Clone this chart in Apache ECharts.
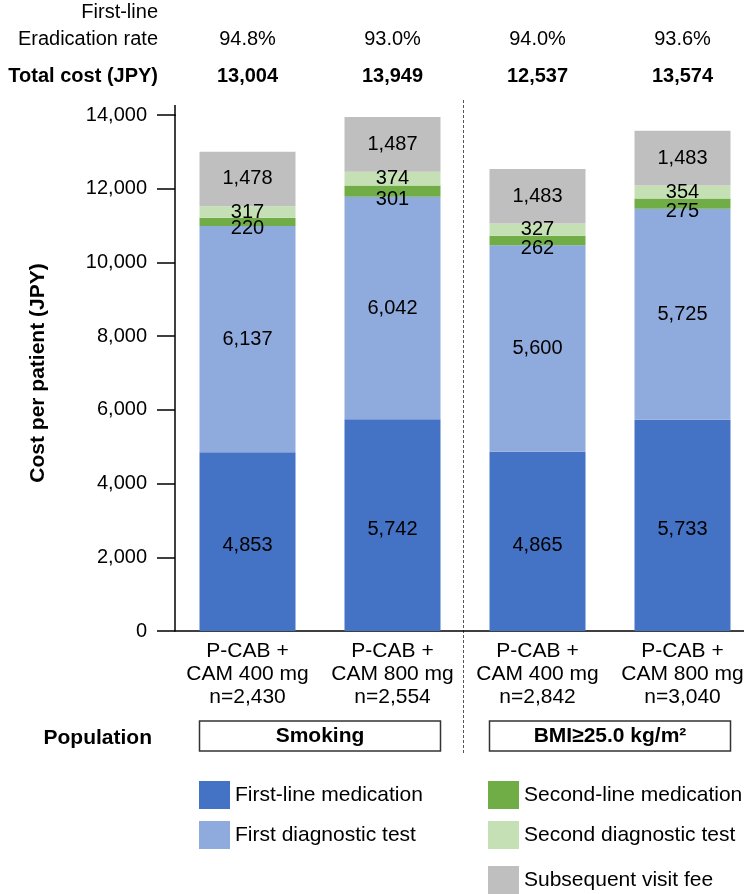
<!DOCTYPE html>
<html>
<head>
<meta charset="utf-8">
<script src="https://cdn.jsdelivr.net/npm/echarts@6/dist/echarts.min.js"></script>
<style>
  html, body { margin: 0; padding: 0; background: #fff; }
  #main { width: 744px; height: 894px; }
</style>
</head>
<body>
<div id="main"></div>
<script>
// data
const categories = ['P-CAB +\nCAM 400 mg\nn=2,430', 'P-CAB +\nCAM 800 mg\nn=2,554', 'P-CAB +\nCAM 400 mg\nn=2,842', 'P-CAB +\nCAM 800 mg\nn=3,040'];
const eradicationRates = ['94.8%', '93.0%', '94.0%', '93.6%'];
const totalCosts = ['13,004', '13,949', '12,537', '13,574'];
const populations = ['Smoking', 'BMI≥25.0 kg/m²'];

const firstLineMed = [4853, 5742, 4865, 5733];
const firstDiagTest = [6137, 6042, 5600, 5725];
const secondLineMed = [220, 301, 262, 275];
const secondDiagTest = [317, 374, 327, 354];
const visitFee = [1478, 1487, 1483, 1483];

const FONT = '"Liberation Sans", Arial, sans-serif';
const fmt = v => Number(v).toLocaleString('en-US');

const myChart = echarts.init(document.getElementById('main'));

function barSeries(name, data, color, label) {
  return {
    name: name,
    type: 'bar',
    stack: 'Total',
    barWidth: 96,
    data: data,
    itemStyle: { color: color },
    label: Object.assign({
      show: true,
      position: 'inside',
      color: '#000',
      fontSize: 20,
      fontFamily: FONT,
      formatter: p => fmt(p.value)
    }, label || {})
  };
}

// legend text sits a bit above the centre of its swatch
const legendText = { color: '#000', fontSize: 21, fontFamily: FONT, padding: [0, 0, 18, 0] };
const legendBase = { orient: 'vertical', itemWidth: 31, itemHeight: 28, itemGap: 12, icon: 'rect', selectedMode: false, textStyle: legendText, padding: 0 };

myChart.setOption({
  animation: false,
  backgroundColor: '#fff',
  grid: { left: 175, top: 115, width: 580, height: 516, outerBoundsMode: 'none' },
  legend: [
    Object.assign({ data: ['First-line medication', 'First diagnostic test'], left: 199, top: 781 }, legendBase),
    Object.assign({ data: ['Second-line medication', 'Second diagnostic test'], left: 488, top: 781 }, legendBase),
    Object.assign({ data: ['Subsequent visit fee'], left: 488, top: 866 }, legendBase)
  ],
  xAxis: [
    {
      type: 'category',
      data: categories,
      axisLine: { lineStyle: { color: '#000', width: 1.5 } },
      axisTick: { show: false },
      axisLabel: { color: '#000', fontSize: 21, fontFamily: FONT, lineHeight: 23, margin: 9, interval: 0 }
    },
    {
      type: 'category', position: 'top',
      data: eradicationRates,
      axisLine: { show: false }, axisTick: { show: false },
      axisLabel: { color: '#000', fontSize: 20, fontFamily: FONT, margin: 76, verticalAlign: 'middle', interval: 0 }
    },
    {
      type: 'category', position: 'top',
      data: totalCosts,
      axisLine: { show: false }, axisTick: { show: false },
      axisLabel: { color: '#000', fontSize: 20, fontWeight: 'bold', fontFamily: FONT, margin: 39, verticalAlign: 'middle', interval: 0 }
    },
    {
      type: 'category', position: 'bottom',
      data: populations,
      axisLine: { show: false }, axisTick: { show: false },
      axisLabel: {
        color: '#000', fontSize: 21, fontWeight: 'bold', fontFamily: FONT,
        margin: 105, verticalAlign: 'middle', interval: 0,
        width: 241, height: 30, lineHeight: 30, align: 'center',
        borderColor: '#333', borderWidth: 1.5
      }
    }
  ],
  yAxis: {
    type: 'value',
    min: 0, max: 14000, interval: 2000,
    name: 'Cost per patient (JPY)',
    nameLocation: 'middle',
    nameGap: 126,
    nameTextStyle: { color: '#000', fontSize: 21, fontWeight: 'bold', fontFamily: FONT },
    axisLine: { show: true, lineStyle: { color: '#000', width: 1.5 } },
    axisTick: { show: true, length: 18, lineStyle: { color: '#000', width: 1.5 } },
    axisLabel: { color: '#000', fontSize: 20, fontFamily: FONT, margin: 28, formatter: v => fmt(v) },
    splitLine: { show: false }
  },
  series: [
    barSeries('First-line medication', firstLineMed, '#4472C4', { offset: [0, 4] }),
    barSeries('First diagnostic test', firstDiagTest, '#8FAADC'),
    barSeries('Second-line medication', secondLineMed, '#70AD47', { position: 'bottom', distance: -7 }),
    barSeries('Second diagnostic test', secondDiagTest, '#C5E0B4'),
    barSeries('Subsequent visit fee', visitFee, '#BFBFBF')
  ]
});

// divider between the two populations, halfway between the 2nd and 3rd bars
const x1 = myChart.convertToPixel({ xAxisIndex: 0 }, 1);
const x2 = myChart.convertToPixel({ xAxisIndex: 0 }, 2);
const divX = Math.round((x1 + x2) / 2) - 1.5;
const headStyle = { fill: '#000', font: '20px ' + FONT, textAlign: 'right', textVerticalAlign: 'middle' };

myChart.setOption({
  graphic: [
    { type: 'line', shape: { x1: divX, y1: 100, x2: divX, y2: 755 }, style: { stroke: '#555', lineWidth: 1, lineDash: [3, 2] } },
    { type: 'line', shape: { x1: 175, y1: 105, x2: 175, y2: 116 }, style: { stroke: '#000', lineWidth: 1.5 } },
    { type: 'text', x: 158, y: 12, style: Object.assign({ text: 'First-line' }, headStyle) },
    { type: 'text', x: 158, y: 39, style: Object.assign({ text: 'Eradication rate' }, headStyle) },
    { type: 'text', x: 158, y: 76, style: Object.assign({}, headStyle, { text: 'Total cost (JPY)', font: 'bold 20px ' + FONT }) },
    { type: 'text', x: 152, y: 738, style: Object.assign({}, headStyle, { text: 'Population', font: 'bold 21px ' + FONT }) }
  ]
});

window.onresize = function () {
  myChart.resize();
};
</script>
</body>
</html>
